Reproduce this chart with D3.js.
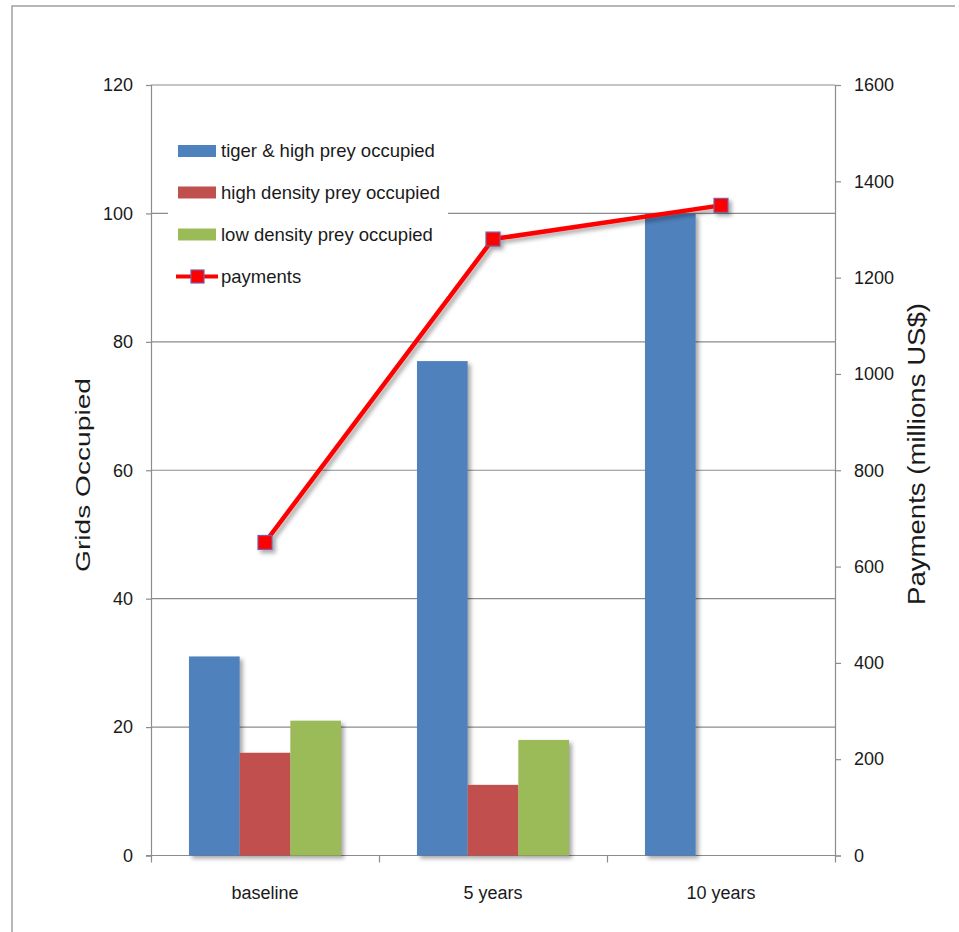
<!DOCTYPE html>
<html><head><meta charset="utf-8">
<script src="https://cdn.jsdelivr.net/npm/d3@7"></script>
<style>
html,body{margin:0;padding:0;background:#fff;}
svg{display:block;}
text{font-family:"Liberation Sans",Arial,sans-serif;fill:#1a1a1a;}
</style></head>
<body>
<script>
const categories = ["baseline", "5 years", "10 years"];
const seriesNames = ["tiger & high prey occupied", "high density prey occupied", "low density prey occupied"];
const tigerHighPrey = [31, 77, 100];
const highDensityPrey = [16, 11, null];
const lowDensityPrey = [21, 18, null];
const payments = [650, 1280, 1350];
const leftTicks = [0, 20, 40, 60, 80, 100, 120];
const rightTicks = [0, 200, 400, 600, 800, 1000, 1200, 1400, 1600];
const seriesColors = ["#4f81bd", "#c0504d", "#9bbb59"];
const lineName = "payments";

const W = 959, H = 932;
const svg = d3.select("body").append("svg").attr("width", W).attr("height", H);
const defs = svg.append("defs");
const f = defs.append("filter").attr("id","sh").attr("x","-20%").attr("y","-20%").attr("width","150%").attr("height","150%");
f.append("feDropShadow").attr("dx",3).attr("dy",3).attr("stdDeviation",2).attr("flood-color","#000").attr("flood-opacity",0.35);

// outer frame
svg.append("path").attr("d","M12,940 L12,6 L955,6").attr("fill","none").attr("stroke","#a0a0a0").attr("stroke-width",1.5);

const L = 151, R = 835, T = 85, B = 855.5;
const x0 = d3.scaleBand().domain(categories).range([L, R]).paddingInner(0).paddingOuter(0);
const x1 = d3.scaleBand().domain(seriesNames).range([0, x0.bandwidth()]).paddingInner(0).paddingOuter(0.75);
const yL = d3.scaleLinear().domain([0, 120]).range([B, T]);
const yR = d3.scaleLinear().domain([0, 1600]).range([B, T]);
const gridC = "#8c8c8c";

// gridlines
svg.append("g").selectAll("line").data(leftTicks.filter(d=>d>0)).join("line")
  .attr("x1", L).attr("x2", R).attr("y1", d=>yL(d)).attr("y2", d=>yL(d))
  .attr("stroke", gridC).attr("stroke-width", 1.2);

// left axis
const gL = svg.append("g").attr("transform", `translate(${L},0)`)
  .call(d3.axisLeft(yL).tickValues(leftTicks).tickSize(5).tickPadding(13).tickFormat(d3.format("d")));
gL.select(".domain").attr("stroke", gridC).attr("stroke-width",1.2);
gL.selectAll(".tick line").attr("stroke", gridC).attr("stroke-width",1.2);
gL.selectAll(".tick text").attr("font-size", 18).attr("fill","#1a1a1a").attr("font-family","Liberation Sans, Arial, sans-serif");

// right axis
const gR = svg.append("g").attr("transform", `translate(${R},0)`)
  .call(d3.axisRight(yR).tickValues(rightTicks).tickSize(6).tickPadding(13).tickFormat(d3.format("d")));
gR.select(".domain").attr("stroke", gridC).attr("stroke-width",1.2);
gR.selectAll(".tick line").attr("stroke", gridC).attr("stroke-width",1.2);
gR.selectAll(".tick text").attr("font-size", 18).attr("fill","#1a1a1a").attr("font-family","Liberation Sans, Arial, sans-serif");

// bottom axis
const xb = d3.scaleLinear().domain([0, categories.length]).range([L, R]);
const gB = svg.append("g").attr("transform", `translate(0,${B})`)
  .call(d3.axisBottom(xb).tickValues(d3.range(categories.length+1)).tickSize(7).tickFormat(""));
gB.select(".domain").attr("stroke", gridC).attr("stroke-width",1.2).attr("d", `M${L-5},0H${R}`);
gB.selectAll(".tick line").attr("stroke", gridC).attr("stroke-width",1.2);
svg.append("g").selectAll("text").data(categories).join("text")
  .attr("x", d => x0(d) + x0.bandwidth()/2).attr("y", 899)
  .attr("text-anchor","middle").attr("font-size",18).text(d=>d);

// bars
const seriesData = [tigerHighPrey, highDensityPrey, lowDensityPrey];
const bars = [];
seriesData.forEach((vals, si) => vals.forEach((v, ci) => { if (v != null) bars.push({s: si, c: ci, v}); }));
svg.append("g").attr("filter","url(#sh)").selectAll("rect").data(bars).join("rect")
  .attr("x", d => x0(categories[d.c]) + x1(seriesNames[d.s]))
  .attr("width", x1.bandwidth())
  .attr("y", d => yL(d.v)).attr("height", d => yL(0) - yL(d.v))
  .attr("fill", d => seriesColors[d.s]);

// line
const lineGen = d3.line().x((d,i) => x0(categories[i]) + x0.bandwidth()/2).y(d => yR(d));
const lg = svg.append("g").attr("filter","url(#sh)");
lg.append("path").attr("d", lineGen(payments)).attr("fill","none").attr("stroke","#ff0000").attr("stroke-width",4.5).attr("stroke-linejoin","round");
lg.selectAll("rect").data(payments).join("rect")
  .attr("x", (d,i) => x0(categories[i]) + x0.bandwidth()/2 - 7)
  .attr("y", d => yR(d) - 7).attr("width",14).attr("height",14)
  .attr("fill","#ff0000").attr("stroke","#7560a8").attr("stroke-width",1.2);

// legend
const leg = svg.append("g");
leg.append("rect").attr("x",168).attr("y",128).attr("width",280).attr("height",168).attr("fill","#fff");
const legY = [151, 192.5, 234.5, 276.5];
seriesNames.forEach((n, i) => {
  leg.append("rect").attr("x",178).attr("y",legY[i]-6).attr("width",38).attr("height",12).attr("fill",seriesColors[i]);
  leg.append("text").attr("x",221).attr("y",legY[i]).attr("dy","0.35em").attr("font-size",18.5).text(n);
});
leg.append("line").attr("x1",176).attr("x2",218).attr("y1",legY[3]).attr("y2",legY[3]).attr("stroke","#ff0000").attr("stroke-width",4);
leg.append("rect").attr("x",191).attr("y",legY[3]-6.5).attr("width",13).attr("height",13).attr("fill","#ff0000").attr("stroke","#7560a8").attr("stroke-width",1.2);
leg.append("text").attr("x",221).attr("y",legY[3]).attr("dy","0.35em").attr("font-size",18.5).text(lineName);

// axis titles
svg.append("text").attr("transform","translate(90,475) rotate(-90)").attr("text-anchor","middle")
  .attr("font-size",21).attr("textLength",194).attr("lengthAdjust","spacingAndGlyphs").text("Grids Occupied");
svg.append("text").attr("transform","translate(925,454) rotate(-90)").attr("text-anchor","middle")
  .attr("font-size",23).attr("textLength",302).attr("lengthAdjust","spacingAndGlyphs").text("Payments (millions US$)");
</script>
</body></html>
